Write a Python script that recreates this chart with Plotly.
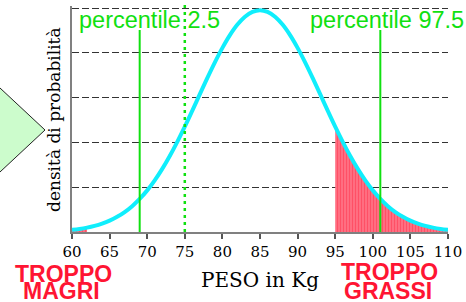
import plotly.graph_objects as go

# ---- data ----
peso_kg = list(range(60, 111))
densita = [
    0.00048, 0.00068, 0.00097, 0.00136, 0.00187, 0.00253, 0.00338, 0.00445, 0.00577, 0.00738,
    0.00929, 0.01153, 0.01409, 0.01697, 0.02013, 0.02353, 0.02711, 0.03076, 0.03439, 0.03787,
    0.04110, 0.04395, 0.04630, 0.04805, 0.04913, 0.04950, 0.04913, 0.04805, 0.04630, 0.04395,
    0.04110, 0.03787, 0.03439, 0.03076, 0.02711, 0.02353, 0.02013, 0.01697, 0.01409, 0.01153,
    0.00929, 0.00738, 0.00577, 0.00445, 0.00338, 0.00253, 0.00187, 0.00136, 0.00097, 0.00068,
    0.00048,
]
percentili_x = [69, 101]
percentili_labels = ["percentile 2.5", "percentile 97.5"]
linea_tratteggiata_x = 75
coda_sinistra_max = 62
coda_destra_min = 95
x_ticks = list(range(60, 111, 5))
y_grid_top = 0.05

GREEN = "#10e010"
CYAN = "#10eefc"
RED = "#ff1533"

# pixel helpers for decoration placement
L, R, T, B = 72, 448, 6, 232
def px(xp):
    return (xp - L) / (R - L)
def py(yp):
    return (B - yp) / (B - T)

fig = go.Figure()

# red striped tails
for sel in (lambda v: v <= coda_sinistra_max, lambda v: v >= coda_destra_min):
    xs = [x for x in peso_kg if sel(x)]
    ys = [y for x, y in zip(peso_kg, densita) if sel(x)]
    fig.add_trace(go.Scatter(
        x=xs, y=ys, mode="lines", line=dict(width=0, shape="spline", color=RED),
        fill="tozeroy", fillcolor="#ff8a98",
        fillpattern=dict(shape="|", fgcolor=RED, bgcolor="#ff8a98", size=3, solidity=0.65),
        hoverinfo="skip", showlegend=False,
    ))

# cyan density curve
fig.add_trace(go.Scatter(
    x=peso_kg, y=densita, mode="lines",
    line=dict(color=CYAN, width=4, shape="spline"),
    showlegend=False,
))

shapes = []
for xv in percentili_x:
    shapes.append(dict(type="line", xref="x", yref="paper", x0=xv, x1=xv,
                       y0=0, y1=py(30), line=dict(color=GREEN, width=2)))
shapes.append(dict(type="line", xref="x", yref="paper", x0=linea_tratteggiata_x, x1=linea_tratteggiata_x,
                   y0=0, y1=py(1), line=dict(color=GREEN, width=2.5, dash="3px,4px")))
# light green diamond on the left
shapes.append(dict(type="path", xref="paper", yref="paper",
                   path=f"M {px(45)} {py(130)} L {px(-12)} {py(76.8)} L {px(-12)} {py(183.2)} Z",
                   fillcolor="#ccfccc", line=dict(color="#222222", width=1)))

annotations = [
    dict(text=percentili_labels[0], xref="paper", yref="paper", x=px(77), y=py(20),
         xanchor="left", yanchor="middle", showarrow=False,
         font=dict(family="Liberation Sans", size=23.5, color=GREEN)),
    dict(text=percentili_labels[1], xref="paper", yref="paper", x=px(308), y=py(20),
         xanchor="left", yanchor="middle", showarrow=False,
         font=dict(family="Liberation Sans", size=23.5, color=GREEN)),
    dict(text="densità di probabilità", xref="paper", yref="paper", x=px(54), y=py(120),
         xanchor="center", yanchor="middle", textangle=-90, showarrow=False,
         font=dict(family="DejaVu Serif", size=17, color="#000000")),
    dict(text="<b>TROPPO</b>", xref="paper", yref="paper", x=px(63.5), y=py(274),
         xanchor="center", yanchor="middle", showarrow=False,
         font=dict(family="Liberation Sans", size=23, color=RED)),
    dict(text="<b>MAGRI</b>", xref="paper", yref="paper", x=px(61.5), y=py(290.5),
         xanchor="center", yanchor="middle", showarrow=False,
         font=dict(family="Liberation Sans", size=23, color=RED)),
    dict(text="<b>TROPPO</b>", xref="paper", yref="paper", x=px(389.5), y=py(272),
         xanchor="center", yanchor="middle", showarrow=False,
         font=dict(family="Liberation Sans", size=23, color=RED)),
    dict(text="<b>GRASSI</b>", xref="paper", yref="paper", x=px(387.5), y=py(290.5),
         xanchor="center", yanchor="middle", showarrow=False,
         font=dict(family="Liberation Sans", size=23, color=RED)),
]

fig.update_layout(
    width=466, height=302,
    margin=dict(l=L, r=466 - R, t=T, b=302 - B, autoexpand=False),
    paper_bgcolor="white", plot_bgcolor="white",
    shapes=shapes, annotations=annotations,
    xaxis=dict(range=[60, 110], tickvals=x_ticks, ticktext=[str(v) for v in x_ticks],
               automargin=False,
               showgrid=False, zeroline=False, showline=True, linecolor="#808080", linewidth=2,
               ticks="outside", ticklen=5, tickwidth=1.5, tickcolor="#555555",
               tickfont=dict(family="DejaVu Serif", size=15, color="#000000"),
               title=dict(text="PESO in Kg", standoff=13,
                          font=dict(family="DejaVu Serif", size=20, color="#000000"))),
    yaxis=dict(range=[0, y_grid_top * (B - T) / (B - 8)], dtick=0.01, showticklabels=False,
               ticks="", automargin=False,
               showgrid=True, gridcolor="#333333", gridwidth=1.3, griddash="7px,3px",
               zeroline=False, showline=True, linecolor="#808080", linewidth=2),
)

fig.write_html("out.html", config={"displayModeBar": False},
               post_script="document.body.style.margin='0';document.body.style.overflow='hidden';")
